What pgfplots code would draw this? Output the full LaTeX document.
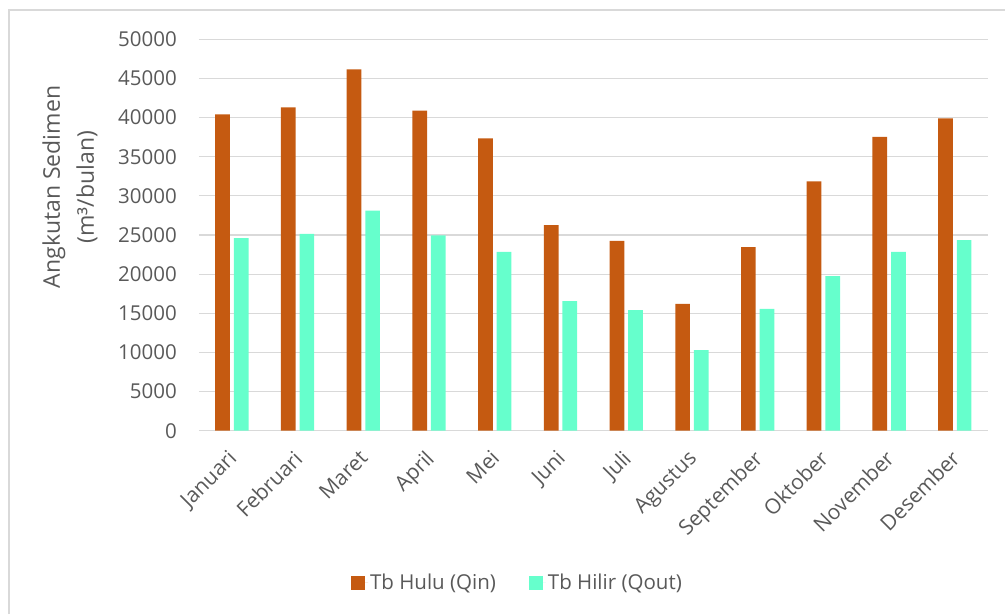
\documentclass[border=0pt]{standalone}
\usepackage{fontspec}
\setmainfont{Open Sans}
\usepackage{pgfplots}
\pgfplotsset{compat=1.18}

\definecolor{hulu}{HTML}{C55A11}
\definecolor{hilir}{HTML}{66FFCC}
\definecolor{gridgray}{HTML}{D9D9D9}
\definecolor{txtgray}{HTML}{595959}

\newcommand{\lbl}{\fontsize{20.5}{24.6}\selectfont}

\begin{document}
\begin{tikzpicture}
\useasboundingbox (0,0) rectangle (1005pt,614pt);
% chart area frame
\draw[gridgray, line width=1.5pt] (9pt,0) -- (9pt,604pt) -- (1005pt,604pt);

\begin{axis}[
  at={(199pt,183.3pt)}, anchor=south west,
  scale only axis, width=788.7pt, height=391.4pt,
  xmin=-0.5, xmax=11.5, ymin=0, ymax=50000,
  ybar, bar width=14.7pt,
  axis line style={draw=none},
  major tick length=0pt,
  ymajorgrids, grid style={gridgray, line width=1.2pt},
  ytick={0,5000,...,50000},
  scaled y ticks=false,
  /pgf/number format/set thousands separator={},
  /pgf/number format/assume math mode=true,
  xtick={0,...,11},
  xticklabels={Januari,Februari,Maret,April,Mei,Juni,Juli,Agustus,September,Oktober,November,Desember},
  every tick label/.append style={font=\lbl, text=txtgray},
  yticklabel style={anchor=east, inner sep=0pt, xshift=-22pt},
  xticklabel style={xshift=-5pt, yshift=-18pt, rotate=45, anchor=north east,
    inner sep=0pt, font=\fontsize{21}{25}\selectfont},
  ylabel={Angkutan Sedimen\\(m³/bulan)},
  ylabel style={at={(axis description cs:-0.1636,0.6226)}, anchor=center, rotate=0,
    align=center, font=\fontsize{23}{34}\selectfont, text=txtgray},
  legend columns=2,
  legend style={at={(axis description cs:0.4038,-0.389)}, anchor=center, draw=none,
    fill=none, font=\lbl, text=txtgray, inner sep=0pt,
    /tikz/every even column/.append style={column sep=31pt}},
  legend image code/.code={\fill[#1] (0pt,-7pt) rectangle (14pt,7pt);
    \path (0pt,0pt) -- (17pt,0pt);},
]
\addplot[fill=hulu, draw=none, bar shift=-9.3pt] coordinates {
  (0,40400) (1,41300) (2,46150) (3,40900) (4,37350) (5,26250)
  (6,24250) (7,16200) (8,23450) (9,31850) (10,37550) (11,39900)};
\addlegendentry{Tb Hulu (Qin)}
\addplot[fill=hilir, draw=none, bar shift=9.3pt] coordinates {
  (0,24600) (1,25150) (2,28100) (3,24950) (4,22850) (5,16550)
  (6,15400) (7,10300) (8,15550) (9,19750) (10,22850) (11,24350)};
\addlegendentry{Tb Hilir (Qout)}
\end{axis}
\end{tikzpicture}
\end{document}
